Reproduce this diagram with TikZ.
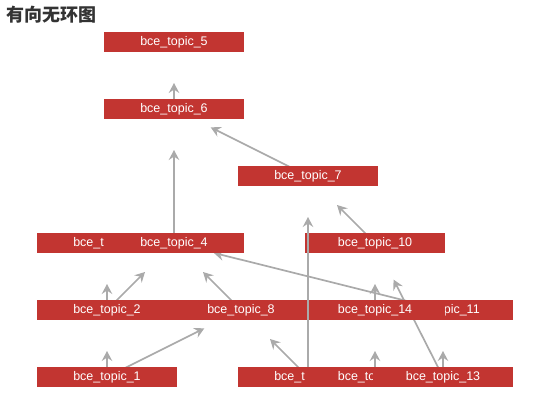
\documentclass[tikz,border=0pt]{standalone}
\usepackage{fontspec}
\setmainfont{Liberation Sans}
\newfontfamily\cjk{Noto Sans CJK SC}
\usetikzlibrary{arrows.meta}
\definecolor{boxred}{HTML}{C23531}
\definecolor{edgegray}{HTML}{AAAAAA}
\definecolor{titlegray}{HTML}{333333}
\tikzset{
  box/.style={fill=boxred, minimum width=140pt, minimum height=20pt, inner sep=0pt,
    text=white, font=\fontsize{12.5}{14}\selectfont},
  edge/.style={draw=edgegray, line width=1.7pt,
    -{Stealth[length=10pt,width=10.5pt,inset=3.5pt]}, shorten >=41pt},
}
\begin{document}
\begin{tikzpicture}[x=1pt,y=-1pt]
\useasboundingbox (0,0) rectangle (550,420);
\node[anchor=west, text=titlegray, font=\cjk\bfseries\fontsize{18}{20}\selectfont] (title) at (3,15) {有向无环图};
% node positions
\coordinate (p5) at (174,42);
\coordinate (p6) at (174,109);
\coordinate (p7) at (308,176);
\coordinate (p3) at (107,243);
\coordinate (p4) at (174,243);
\coordinate (p10) at (375,243);
\coordinate (p2) at (107,310);
\coordinate (p8) at (241,310);
\coordinate (p14) at (375,310);
\coordinate (p11) at (443,310);
\coordinate (p1) at (107,377);
\coordinate (p9) at (308,377);
\coordinate (p12) at (375,377);
\coordinate (p13) at (443,377);
% edges (under the boxes)
\draw[edge] (p6) -- (p5);
\draw[edge] (p7) -- (p6);
\draw[edge] (p4) -- (p6);
\draw[edge] (p10) -- (p7);
\draw[edge] (p2) -- (p3);
\draw[edge] (p2) -- (p4);
\draw[edge] (p8) -- (p4);
\draw[edge] (p11) -- (p4);
\draw[edge] (p14) -- (p10);
\draw[edge] (p13) -- (p10);
\draw[edge] (p1) -- (p2);
\draw[edge] (p1) -- (p8);
\draw[edge] (p9) -- (p8);
\draw[edge] (p12) -- (p14);
\draw[edge] (p13) -- (p11);
% boxes
\node[box] (t5) at (p5) {bce\_topic\_5};
\node[box] (t6) at (p6) {bce\_topic\_6};
\node[box] (t7) at (p7) {bce\_topic\_7};
\node[box] (t3) at (p3) {bce\_topic\_3};
\node[box] (t4) at (p4) {bce\_topic\_4};
\node[box] (t10) at (p10) {bce\_topic\_10};
\node[box] (t2) at (p2) {bce\_topic\_2};
\node[box] (t8) at (p8) {bce\_topic\_8};
\node[box] (t11) at (p11) {bce\_topic\_11};
\node[box] (t14) at (p14) {bce\_topic\_14};
% edge drawn over the upper boxes
\draw[edge] (p9) -- (p7);
\node[box] (t1) at (p1) {bce\_topic\_1};
\node[box] (t9) at (p9) {bce\_topic\_9};
\node[box] (t12) at (p12) {bce\_topic\_12};
\node[box] (t13) at (p13) {bce\_topic\_13};
\end{tikzpicture}
\end{document}
